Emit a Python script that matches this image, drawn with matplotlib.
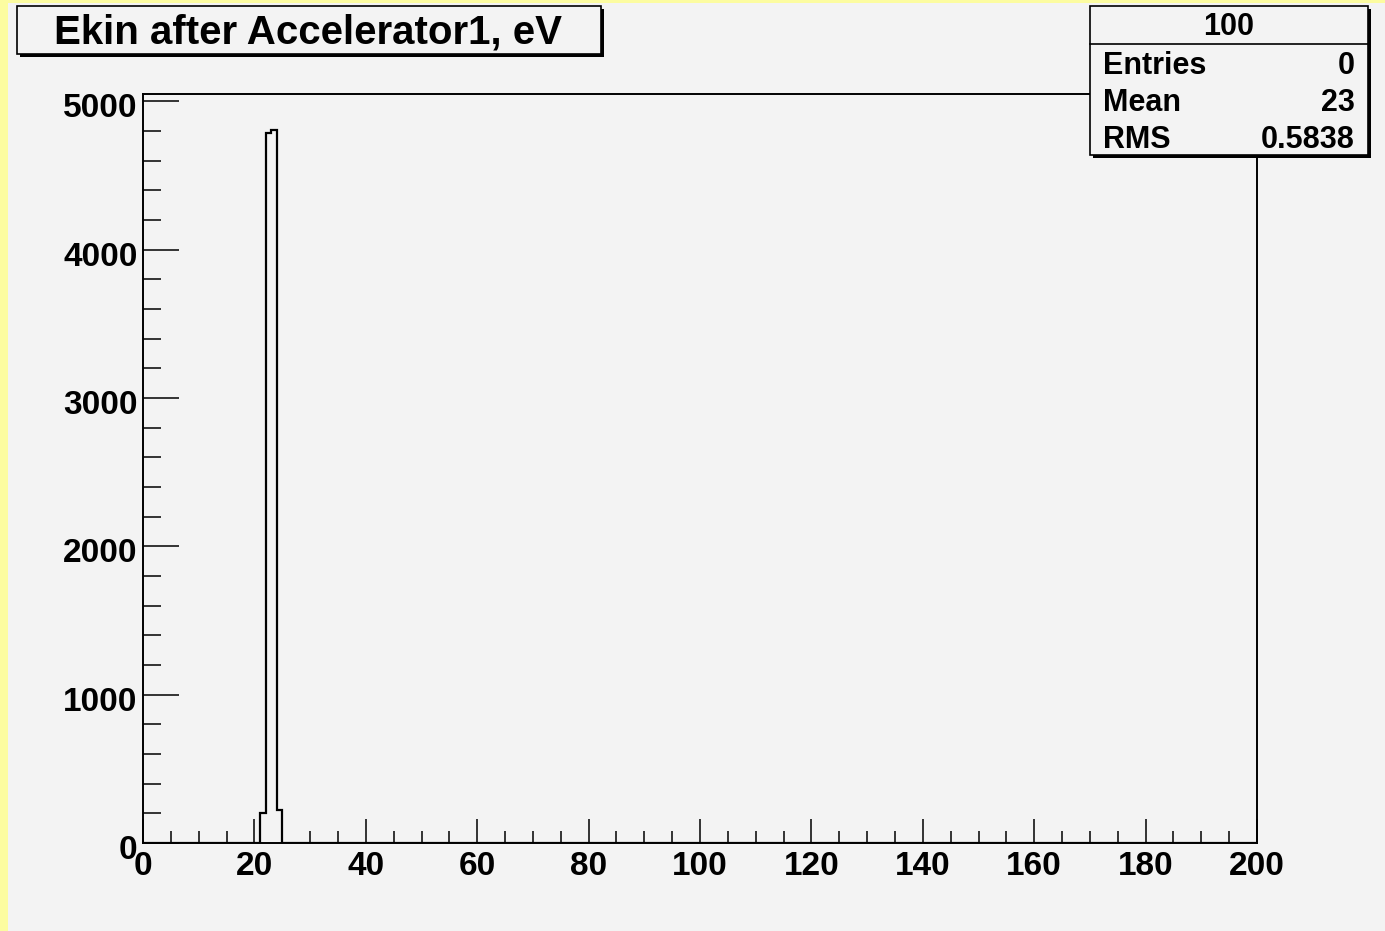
import numpy as np
import matplotlib.pyplot as plt
from matplotlib.patches import Rectangle
from matplotlib.ticker import MultipleLocator
from matplotlib.transforms import ScaledTranslation

plt.rcParams['font.family'] = ['Liberation Sans', 'DejaVu Sans']
plt.rcParams['font.weight'] = 'bold'

# histogram: 200 bins of width 1 eV, from 0 to 200
n_bins = 200
x_min, x_max = 0, 200
peak_bins = [21, 22, 23, 24]          # lower edge of filled bins
peak_counts = [200, 4790, 4810, 220]

title = "Ekin after Accelerator1, eV"
stats_name = "100"
stats_labels = ["Entries", "Mean", "RMS"]
stats_values = ["0", "23", "0.5838"]

x_ticks = [0, 20, 40, 60, 80, 100, 120, 140, 160, 180, 200]
y_ticks = [0, 1000, 2000, 3000, 4000, 5000]

edges = np.linspace(x_min, x_max, n_bins + 1)
counts = np.zeros(n_bins)
for b, c in zip(peak_bins, peak_counts):
    counts[b] = c

W, H = 1385, 931
bg = '#f3f3f3'
fig = plt.figure(figsize=(W / 100, H / 100), dpi=100, facecolor=bg)

# yellow border strips on the left and top
fig.patches.append(Rectangle((0, 0), 8 / W, 1, transform=fig.transFigure,
                             facecolor='#fcfca0', edgecolor='none', zorder=0))
fig.patches.append(Rectangle((0, 1 - 3 / H), 1, 3 / H, transform=fig.transFigure,
                             facecolor='#fcfca0', edgecolor='none', zorder=0))

ax = fig.add_axes([143 / W, 1 - 843 / H, (1257 - 143) / W, (843 - 94) / H])
ax.set_facecolor(bg)
ax.stairs(counts, edges, color='black', lw=1.6)

ax.set_xlim(x_min, x_max)
ax.set_ylim(0, max(peak_counts) * 1.05)
ax.set_xticks(x_ticks)
ax.set_yticks(y_ticks)
ax.xaxis.set_minor_locator(MultipleLocator(5))
ax.yaxis.set_minor_locator(MultipleLocator(200))

for s in ax.spines.values():
    s.set_linewidth(1.4)
ax.tick_params(axis='x', which='major', direction='in', length=17, width=1.1,
               labelsize=24, pad=6, top=False)
ax.tick_params(axis='x', which='minor', direction='in', length=8.5, width=1.1, top=False)
ax.tick_params(axis='y', which='major', direction='in', length=26, width=1.1,
               labelsize=24, pad=4, right=False)
ax.tick_params(axis='y', which='minor', direction='in', length=13, width=1.1, right=False)
shift = ScaledTranslation(0, -4 / 100, fig.dpi_scale_trans)
for lab in ax.get_yticklabels():
    lab.set_fontweight('bold')
    lab.set_transform(lab.get_transform() + shift)
for lab in ax.get_xticklabels():
    lab.set_fontweight('bold')


def box(x0, y0, x1, y1):
    # rectangle in pixel coordinates (top-left origin) with a ROOT-style shadow
    fig.patches.append(Rectangle((x0 / W + 3 / W, 1 - (y1 + 3) / H), (x1 - x0) / W, (y1 - y0) / H,
                                 transform=fig.transFigure, facecolor='black',
                                 edgecolor='none', zorder=5))
    fig.patches.append(Rectangle((x0 / W, 1 - y1 / H), (x1 - x0) / W, (y1 - y0) / H,
                                 transform=fig.transFigure, facecolor=bg,
                                 edgecolor='black', lw=1.2, zorder=6))


# title box
box(17, 6, 601, 54)
fig.text(308 / W, 1 - 32 / H, title, ha='center', va='center', fontsize=29,
         fontweight='bold', zorder=7)

# stats box
box(1090, 6, 1368, 155)
fig.add_artist(plt.Line2D([1090 / W, 1368 / W], [1 - 44 / H, 1 - 44 / H],
                          transform=fig.transFigure, color='black', lw=1.2, zorder=7))
fig.text(1229 / W, 1 - 27 / H, stats_name, ha='center', va='center', fontsize=22,
         fontweight='bold', zorder=7)
for i, (lab, val) in enumerate(zip(stats_labels, stats_values)):
    y = 1 - (66 + 37 * i) / H
    fig.text(1103 / W, y, lab, ha='left', va='center', fontsize=22, fontweight='bold', zorder=7)
    fig.text(1355 / W, y, val, ha='right', va='center', fontsize=22, fontweight='bold', zorder=7)

fig.savefig('out.png', dpi=100, facecolor=bg)
